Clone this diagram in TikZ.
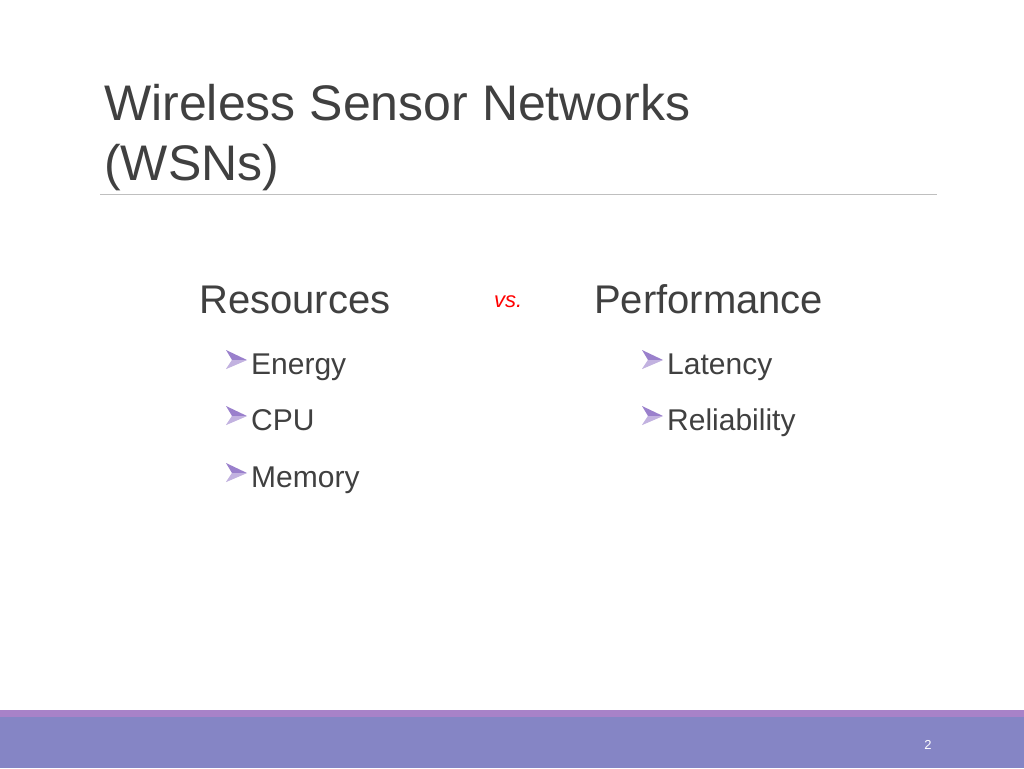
\documentclass[tikz,border=0pt]{standalone}
\usepackage{fontspec}
\setmainfont{Liberation Sans}
\definecolor{titlegray}{HTML}{404040}
\definecolor{barblue}{HTML}{8585C5}
\definecolor{barlilac}{HTML}{A882C8}
\definecolor{bulletpurple}{HTML}{9A80CC}
\definecolor{rulegray}{HTML}{BFBFBF}
\tikzset{
  title/.style={anchor=base west, inner sep=0pt, text=titlegray, font=\fontsize{50}{60}\selectfont},
  head/.style={anchor=base west, inner sep=0pt, text=titlegray, font=\fontsize{40}{48}\selectfont},
  item/.style={anchor=base west, inner sep=0pt, text=titlegray, font=\fontsize{30}{36}\selectfont},
  bullet/.pic={\fill[bulletpurple] (0,0) -- (21,-9) -- (0,-19) -- (6,-9) -- cycle;
               \fill[white,opacity=0.4] (0,0) -- (21,-9) -- (6,-9) -- cycle;}
}
\begin{document}
\begin{tikzpicture}[x=1pt, y=-1pt]
  \useasboundingbox (0,0) rectangle (1024,768);
  \fill[white] (0,0) rectangle (1024,768);
  % title
  \node[title] (t1) at (104,120) {Wireless Sensor Networks};
  \node[title] (t2) at (104,180) {(WSNs)};
  \draw[rulegray, line width=0.8pt] (100,194) -- (937,194);
  % columns
  \node[head] (res) at (199,313) {Resources};
  \node[head] (perf) at (594,313) {Performance};
  \node[anchor=base west, inner sep=0pt, text=red, font=\fontsize{22}{26}\selectfont\itshape] (vs) at (494,307) {vs.};
  \foreach \name/\txt/\yy [count=\i] in {en/Energy/374, cpu/CPU/430, mem/Memory/487}{
    \pic at (226,\yy-5) {bullet};
    \node[item] (\name) at (251,\yy) {\txt};
  }
  \foreach \name/\txt/\yy in {lat/Latency/374, rel/Reliability/430}{
    \pic at (642,\yy-5) {bullet};
    \node[item] (\name) at (667,\yy) {\txt};
  }
  % footer
  \fill[barlilac] (0,710) rectangle (1024,717);
  \fill[barblue] (0,717) rectangle (1024,768);
  \node[anchor=base, inner sep=0pt, text=white, font=\fontsize{13}{15}\selectfont] (pg) at (928,749) {2};
\end{tikzpicture}
\end{document}
